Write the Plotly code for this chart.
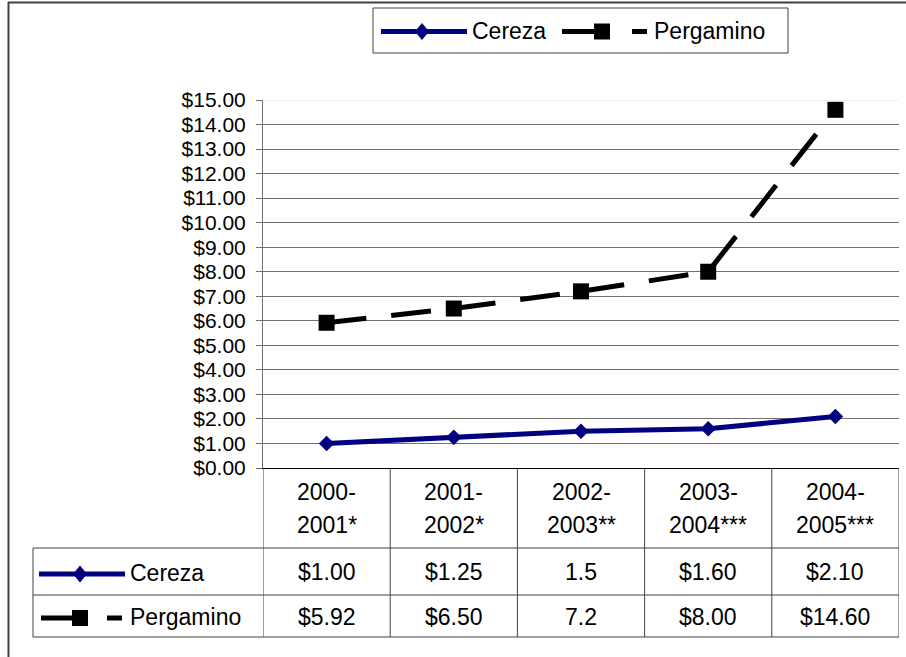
import plotly.graph_objects as go

# ---------------- data ----------------
categories = ["2000-2001*", "2001-2002*", "2002-2003**", "2003-2004***", "2004-2005***"]
header_top = ["2000-", "2001-", "2002-", "2003-", "2004-"]
header_bottom = ["2001*", "2002*", "2003**", "2004***", "2005***"]
series_names = ["Cereza", "Pergamino"]
cereza = [1.00, 1.25, 1.5, 1.60, 2.10]
pergamino = [5.92, 6.50, 7.2, 8.00, 14.60]
cereza_labels = ["$1.00", "$1.25", "1.5", "$1.60", "$2.10"]
pergamino_labels = ["$5.92", "$6.50", "7.2", "$8.00", "$14.60"]
y_min, y_max, y_step = 0, 15, 1

# ---------------- geometry helpers ----------------
W, H = 906, 657
L, R, T, B = 263, 7, 100, 189
PW, PH = W - L - R, H - T - B
FONT = "Arial, Liberation Sans, sans-serif"
NAVY = "#000080"
LINEC = "#404040"


def xp(px):
    return (px - L) / PW


def yp(py):
    return (H - B - py) / PH


fig = go.Figure()
fig.add_trace(go.Scatter(
    x=categories, y=cereza, name=series_names[0], mode="lines+markers",
    line=dict(color=NAVY, width=5),
    marker=dict(symbol="diamond", size=12, color=NAVY),
    showlegend=False, cliponaxis=False))
fig.add_trace(go.Scatter(
    x=categories, y=pergamino, name=series_names[1], mode="lines+markers",
    line=dict(color="black", width=5, dash="40px,25px"),
    marker=dict(symbol="square", size=16, color="black"),
    showlegend=False, cliponaxis=False))

shapes = []
# light top edge of the plot area (at the max gridline)
shapes.append(dict(type="line", xref="paper", yref="y", layer="above",
                   x0=0.002, x1=1, y0=y_max, y1=y_max,
                   line=dict(color="#e4e4e4", width=1)))
# outer chart border (top and left visible)
shapes.append(dict(type="line", xref="paper", yref="paper",
                   x0=xp(8), x1=xp(W + 5), y0=yp(2.5), y1=yp(2.5),
                   line=dict(color=LINEC, width=2)))
shapes.append(dict(type="line", xref="paper", yref="paper",
                   x0=xp(8.5), x1=xp(8.5), y0=yp(2), y1=yp(H + 5),
                   line=dict(color=LINEC, width=2)))
# data table: verticals at category boundaries
for i in range(len(categories) + 1):
    shapes.append(dict(type="line", xref="x", yref="paper",
                       x0=i - 0.5, x1=i - 0.5, y0=yp(468), y1=yp(637),
                       line=dict(color=LINEC, width=1)))
# left column of table
shapes.append(dict(type="line", xref="paper", yref="paper",
                   x0=xp(33), x1=xp(33), y0=yp(548), y1=yp(637),
                   line=dict(color=LINEC, width=1)))
for ry in (548, 595, 637):
    shapes.append(dict(type="line", xref="paper", yref="paper",
                       x0=xp(33), x1=1, y0=yp(ry), y1=yp(ry),
                       line=dict(color=LINEC, width=1)))
# legend box
shapes.append(dict(type="rect", xref="paper", yref="paper",
                   x0=xp(373), x1=xp(788), y0=yp(8), y1=yp(53),
                   line=dict(color=LINEC, width=1), fillcolor="rgba(0,0,0,0)"))


def cereza_key(x0, x1, xc, yc):
    shapes.append(dict(type="line", xref="paper", yref="paper",
                       x0=xp(x0), x1=xp(x1), y0=yp(yc), y1=yp(yc),
                       line=dict(color=NAVY, width=5)))
    hw, hh = 7, 8.5
    path = "M{},{} L{},{} L{},{} L{},{} Z".format(
        xp(xc - hw), yp(yc), xp(xc), yp(yc - hh), xp(xc + hw), yp(yc), xp(xc), yp(yc + hh))
    shapes.append(dict(type="path", xref="paper", yref="paper", path=path,
                       fillcolor=NAVY, line=dict(color=NAVY, width=0)))


def pergamino_key(x0, xs, x2, x3, yc):
    shapes.append(dict(type="line", xref="paper", yref="paper",
                       x0=xp(x0), x1=xp(xs), y0=yp(yc), y1=yp(yc),
                       line=dict(color="black", width=5)))
    shapes.append(dict(type="rect", xref="paper", yref="paper",
                       x0=xp(xs), x1=xp(xs + 16), y0=yp(yc - 8), y1=yp(yc + 8),
                       fillcolor="black", line=dict(color="black", width=0)))
    shapes.append(dict(type="line", xref="paper", yref="paper",
                       x0=xp(x2), x1=xp(x3), y0=yp(yc), y1=yp(yc),
                       line=dict(color="black", width=5)))


# legend keys
cereza_key(381, 467, 422, 31.5)
pergamino_key(562, 594, 632, 647, 31.5)
# table row keys
cereza_key(39, 125, 80, 574)
pergamino_key(41, 72, 107, 122, 618)

annotations = []
TF = dict(family=FONT, size=23, color="black")
annotations.append(dict(xref="paper", yref="paper", x=xp(470), y=yp(31),
                        text=series_names[0], showarrow=False,
                        xanchor="left", yanchor="middle", font=TF))
annotations.append(dict(xref="paper", yref="paper", x=xp(652), y=yp(31),
                        text=series_names[1], showarrow=False,
                        xanchor="left", yanchor="middle", font=TF))
annotations.append(dict(xref="paper", yref="paper", x=xp(128), y=yp(573),
                        text=series_names[0], showarrow=False,
                        xanchor="left", yanchor="middle", font=TF))
annotations.append(dict(xref="paper", yref="paper", x=xp(128), y=yp(617),
                        text=series_names[1], showarrow=False,
                        xanchor="left", yanchor="middle", font=TF))
for i in range(len(categories)):
    for txt, py in ((header_top[i], 492), (header_bottom[i], 525),
                    (cereza_labels[i], 572), (pergamino_labels[i], 617)):
        annotations.append(dict(xref="x", yref="paper", x=i, y=yp(py),
                                text=txt, showarrow=False,
                                xanchor="center", yanchor="middle", font=TF))

fig.update_layout(
    width=W, height=H,
    margin=dict(l=L, r=R, t=T, b=B, pad=0),
    paper_bgcolor="white", plot_bgcolor="white",
    showlegend=False,
    shapes=shapes, annotations=annotations,
    xaxis=dict(type="category", range=[-0.5, len(categories) - 0.5],
               showgrid=False, showline=True, linecolor="black", linewidth=1,
               showticklabels=False, ticks="", zeroline=False),
    yaxis=dict(range=[y_min, y_max], dtick=y_step, tick0=0,
               tickformat="$.2f", showgrid=True, gridcolor="#707070", gridwidth=1,
               showline=True, linecolor="#707070", linewidth=1,
               ticks="outside", ticklen=6, tickcolor="#707070",
               ticklabelstandoff=6,
               tickfont=dict(family=FONT, size=21, color="black"),
               zeroline=False),
)

fig.write_html("out.html", config={"displayModeBar": False},
               post_script="document.body.style.margin='0';document.body.style.overflow='hidden';")
